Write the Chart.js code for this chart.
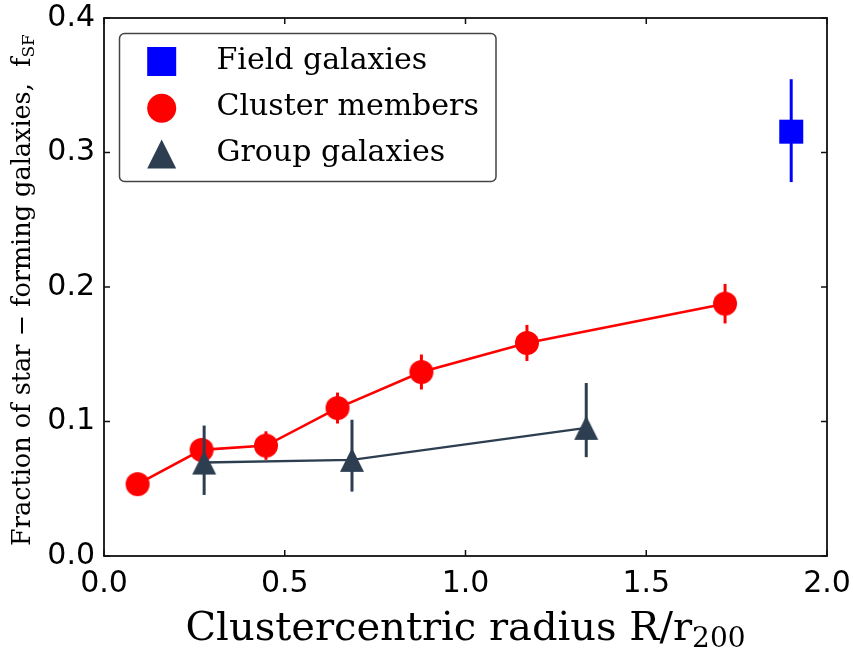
<!DOCTYPE html>
<html>
<head>
<meta charset="utf-8">
<script src="https://cdn.jsdelivr.net/npm/chart.js@4.4.1/dist/chart.umd.min.js"></script>
<style>
  html, body { margin: 0; padding: 0; background: #fff; }
  #wrap { width: 853px; height: 650px; }
</style>
</head>
<body>
<div id="wrap"><canvas id="fsf" width="853" height="650"></canvas></div>
<script>
// values
const clusterR = [0.093, 0.270, 0.448, 0.646, 0.878, 1.170, 1.718];
const clusterF = [0.0534, 0.0789, 0.0821, 0.110, 0.1368, 0.1584, 0.1876];
const clusterErr = [0.007, 0.008, 0.0106, 0.0115, 0.013, 0.0134, 0.0147];

const groupR = [0.277, 0.686, 1.334];
const groupF = [0.0695, 0.0715, 0.0953];
const groupLo = [0.0454, 0.0479, 0.0735];
const groupHi = [0.0970, 0.1013, 0.1286];

const fieldR = [1.901];
const fieldF = [0.3155];
const fieldLo = [0.278];
const fieldHi = [0.3545];

const xTickLabels = ['0.0', '0.5', '1.0', '1.5', '2.0'];
const yTickLabels = ['0.0', '0.1', '0.2', '0.3', '0.4'];

const RED = '#ff0000', BLUE = '#0000ff', DARK = '#2c3e50';

function markerPath(ctx, shape, x, y, s) {
    const h = s / 2;
    ctx.beginPath();
    if (shape === 'square') {
        ctx.rect(x - h, y - h, s, s);
    } else if (shape === 'circle') {
        ctx.arc(x, y, h, 0, Math.PI * 2);
    } else {
        ctx.moveTo(x, y - h);
        ctx.lineTo(x + h, y + h);
        ctx.lineTo(x - h, y + h);
        ctx.closePath();
    }
}

function makeMarker(shape, s, color) {
    const c = document.createElement('canvas');
    c.width = s + 2;
    c.height = s + 2;
    const ctx = c.getContext('2d');
    ctx.fillStyle = color;
    markerPath(ctx, shape, c.width / 2, c.height / 2, s);
    ctx.fill();
    return c;
}

function toPoints(xs, ys) {
    return xs.map((x, i) => ({ x: x, y: ys[i] }));
}

// text with a lowered, smaller tail (subscript)
function drawSub(ctx, main, sub, x, y, size, subSize, drop) {
    ctx.font = size + 'px "DejaVu Serif"';
    const w1 = ctx.measureText(main).width;
    ctx.font = subSize + 'px "DejaVu Serif"';
    const w2 = ctx.measureText(sub).width;
    const start = x - (w1 + w2) / 2;
    ctx.textAlign = 'left';
    ctx.textBaseline = 'alphabetic';
    ctx.font = size + 'px "DejaVu Serif"';
    ctx.fillText(main, start, y);
    ctx.font = subSize + 'px "DejaVu Serif"';
    ctx.fillText(sub, start + w1, y + drop);
}

const decorations = {
    id: 'decorations',
    beforeDatasetDraw(chart, args) {
        const ds = chart.data.datasets[args.index];
        if (!ds.errLo) return;
        const ctx = chart.ctx;
        const xs = chart.scales.x, ys = chart.scales.y;
        ctx.save();
        ctx.strokeStyle = ds.borderColor;
        ctx.lineWidth = 3;
        ds.data.forEach((p, i) => {
            const px = xs.getPixelForValue(p.x);
            ctx.beginPath();
            ctx.moveTo(px, ys.getPixelForValue(ds.errLo[i]));
            ctx.lineTo(px, ys.getPixelForValue(ds.errHi[i]));
            ctx.stroke();
        });
        ctx.restore();
    },
    afterDraw(chart) {
        const ctx = chart.ctx;
        const a = chart.chartArea;
        const xs = chart.scales.x, ys = chart.scales.y;
        ctx.save();

        // inward ticks on all four sides
        ctx.strokeStyle = '#111';
        ctx.lineWidth = 1.5;
        xs.ticks.forEach(t => {
            const px = xs.getPixelForValue(t.value);
            ctx.beginPath();
            ctx.moveTo(px, a.bottom); ctx.lineTo(px, a.bottom - 6);
            ctx.moveTo(px, a.top); ctx.lineTo(px, a.top + 6);
            ctx.stroke();
        });
        ys.ticks.forEach(t => {
            const py = ys.getPixelForValue(t.value);
            ctx.beginPath();
            ctx.moveTo(a.left, py); ctx.lineTo(a.left + 6, py);
            ctx.moveTo(a.right, py); ctx.lineTo(a.right - 6, py);
            ctx.stroke();
        });

        // frame
        ctx.lineWidth = 1.8;
        ctx.strokeRect(a.left, a.top, a.right - a.left, a.bottom - a.top);

        // axis titles
        ctx.fillStyle = '#000';
        drawSub(ctx, 'Clustercentric radius R/r', '200', (a.left + a.right) / 2, 640, 40, 28, 7);
        ctx.save();
        ctx.translate(30, (a.top + a.bottom) / 2 + 3);
        ctx.rotate(-Math.PI / 2);
        drawSub(ctx, 'Fraction of star \u2212 forming galaxies,  f', 'SF', 0, 0, 25.5, 17, 4);
        ctx.restore();

        // legend
        const bx = 119.5, by = 33.5, bw = 376.5, bh = 148, r = 5;
        ctx.beginPath();
        ctx.roundRect(bx, by, bw, bh, r);
        ctx.fillStyle = 'rgba(255,255,255,0.85)';
        ctx.fill();
        ctx.lineWidth = 1.5;
        ctx.strokeStyle = '#444';
        ctx.stroke();

        const rows = [
            { shape: 'square', color: BLUE, label: 'Field galaxies', my: 61.5, ty: 68.5 },
            { shape: 'circle', color: RED, label: 'Cluster members', my: 108.3, ty: 115 },
            { shape: 'triangle', color: DARK, label: 'Group galaxies', my: 154, ty: 161 }
        ];
        ctx.font = '30px "DejaVu Serif"';
        ctx.textAlign = 'left';
        ctx.textBaseline = 'alphabetic';
        rows.forEach(row => {
            ctx.fillStyle = row.color;
            markerPath(ctx, row.shape, 161.7, row.my, 29);
            ctx.fill();
            ctx.fillStyle = '#000';
            ctx.fillText(row.label, 216.5, row.ty);
        });
        ctx.restore();
    }
};

const tickFont = { family: 'DejaVu Sans', size: 30 };

new Chart(document.getElementById('fsf'), {
    type: 'scatter',
    data: {
        datasets: [
            {
                label: 'Field galaxies',
                data: toPoints(fieldR, fieldF),
                errLo: fieldLo,
                errHi: fieldHi,
                borderColor: BLUE,
                backgroundColor: BLUE,
                pointStyle: makeMarker('square', 24, BLUE),
                showLine: false,
                order: 3
            },
            {
                label: 'Cluster members',
                data: toPoints(clusterR, clusterF),
                errLo: clusterF.map((v, i) => v - clusterErr[i]),
                errHi: clusterF.map((v, i) => v + clusterErr[i]),
                borderColor: RED,
                backgroundColor: RED,
                borderWidth: 2.6,
                pointStyle: makeMarker('circle', 24, RED),
                showLine: true,
                order: 2
            },
            {
                label: 'Group galaxies',
                data: toPoints(groupR, groupF),
                errLo: groupLo,
                errHi: groupHi,
                borderColor: DARK,
                backgroundColor: DARK,
                borderWidth: 2.4,
                pointStyle: makeMarker('triangle', 24, DARK),
                showLine: true,
                order: 1
            }
        ]
    },
    options: {
        responsive: false,
        animation: false,
        devicePixelRatio: 1,
        layout: { padding: { left: 0, top: 18, right: 26, bottom: 0 } },
        plugins: {
            legend: { display: false },
            tooltip: { enabled: false }
        },
        scales: {
            x: {
                type: 'linear',
                min: 0,
                max: 2,
                ticks: {
                    stepSize: 0.5,
                    font: tickFont,
                    color: '#000',
                    padding: 10,
                    maxRotation: 0,
                    callback: (v, i) => xTickLabels[i]
                },
                grid: { display: false, drawTicks: false },
                border: { display: false },
                afterFit: s => {
                    s.height = 94;
                    s.paddingLeft = 0;
                    s.paddingRight = 0;
                }
            },
            y: {
                type: 'linear',
                min: 0,
                max: 0.4,
                ticks: {
                    stepSize: 0.1,
                    font: tickFont,
                    color: '#000',
                    padding: 9,
                    callback: (v, i) => yTickLabels[i]
                },
                grid: { display: false, drawTicks: false },
                border: { display: false },
                afterFit: s => {
                    s.width = 104;
                    s.paddingTop = 0;
                    s.paddingBottom = 0;
                }
            }
        }
    },
    plugins: [decorations]
});
</script>
</body>
</html>
